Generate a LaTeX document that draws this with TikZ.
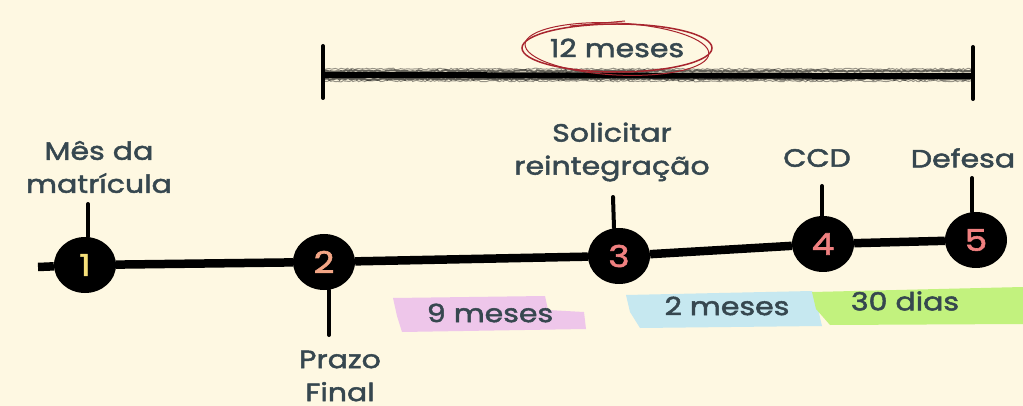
\documentclass[tikz,border=0pt]{standalone}
\usepackage{fontspec}
\setmainfont[FakeStretch=1.2,FakeBold=2]{Poppins}
\usetikzlibrary{shapes.geometric,decorations.pathmorphing}

\definecolor{paper}{HTML}{FEF8E2}
\definecolor{ink}{HTML}{36474F}
\definecolor{ringred}{HTML}{A8252E}
\definecolor{numyellow}{HTML}{F6E07A}
\definecolor{numorange}{HTML}{F2A585}
\definecolor{numpink}{HTML}{F08080}
\definecolor{hlpink}{HTML}{EEC6EA}
\definecolor{hlblue}{HTML}{C6E8F0}
\definecolor{hlgreen}{HTML}{C2F27E}

\tikzset{
  dot/.style={ellipse,fill=black,minimum width=62pt,minimum height=56pt,inner sep=0pt,
    font=\fontsize{30}{30}\selectfont},
  timeline/.style={line width=8.5pt,black},
  tick/.style={line width=4pt,black,line cap=round},
  lbl/.style={text=ink,align=center,font=\fontsize{25}{33}\selectfont},
  brush/.style={black,decorate,decoration={random steps,segment length=2pt,amplitude=.8pt}},
}

\begin{document}
\begin{tikzpicture}[x=1pt,y=-1pt]
  \fill[paper] (0,0) rectangle (1023,406);
  \useasboundingbox (0,0) rectangle (1023,406);

  % the bracket on top
  \coordinate (b1) at (323,75);
  \coordinate (b2) at (973,76);
  \draw[black,line width=6pt] (b1) -- (b2);
  \draw[brush,line width=2pt,opacity=.6] ([yshift=-4]b1) -- ([yshift=-3]b2);
  \draw[brush,line width=2pt,opacity=.6] ([yshift=4]b1) -- ([yshift=5]b2);
  \draw[brush,line width=1pt,opacity=.4] ([yshift=-6]b1) -- ([yshift=-5]b2);
  \draw[brush,line width=1pt,opacity=.4] ([yshift=6]b1) -- ([yshift=7]b2);
  \draw[tick] (323,46) -- (323,98);
  \draw[tick] (973,47) -- (973,99);

  \node[lbl] (m12) at (617,48) {12 meses};
  \draw[ringred,line width=1.5pt] (m12.center) ellipse [x radius=95, y radius=24];
  \draw[ringred,line width=1pt,rotate around={-3:(m12.center)}] ([yshift=-1]m12.center) ellipse [x radius=92, y radius=26];
  \draw[ringred,line width=1pt] (570,26) -- (625,21);

  % highlights under the spans
  \fill[hlpink] (393,298) -- (545,296) -- (548,310) -- (584,312) -- (586,329) -- (402,332) -- (397,316) -- cycle;
  \fill[hlblue] (626,295) -- (812,291) -- (818,309) -- (822,326) -- (640,328) -- (630,312) -- cycle;
  \fill[hlgreen] (812,292) -- (1023,287) -- (1023,324) -- (830,325) -- (816,309) -- cycle;

  \node[lbl] (s1) at (490,313) {9 meses};
  \node[lbl] (s2) at (727,306) {2 meses};
  \node[lbl] (s3) at (905,301) {30 dias};

  % points on the line
  \node[dot,text=numyellow] (n1) at (85,265) {1};
  \node[dot,text=numorange] (n2) at (324,262) {2};
  \node[dot,text=numpink]   (n3) at (619,256) {3};
  \node[dot,text=numpink]   (n4) at (823,244) {4};
  \node[dot,text=numpink]   (n5) at (976,240) {5};

  \coordinate (start) at (38,267);
  \draw[timeline] (start) -- (n1) -- (n2) -- (n3) -- (n4) -- (n5);

  \draw[tick] (n1.north) ++(3,0) -- (88,204);
  \draw[tick] (n2.south) ++(5,0) -- (329,335);
  \draw[tick] (n3.north) ++(-5,0) -- (613,197);
  \draw[tick] (n4.north) ++(-1,0) -- (822,186);
  \draw[tick] (n5.north) ++(-4,0) -- (972,178);

  \node[lbl] (l1) at (99,167) {Mês da\\matrícula};
  \node[lbl] (l2) at (340,376) {Prazo\\Final};
  \node[lbl] (l3) at (612,152) {Solicitar\\reintegração};
  \node[lbl] (l4) at (817,158) {CCD};
  \node[lbl] (l5) at (963,158) {Defesa};
\end{tikzpicture}
\end{document}
